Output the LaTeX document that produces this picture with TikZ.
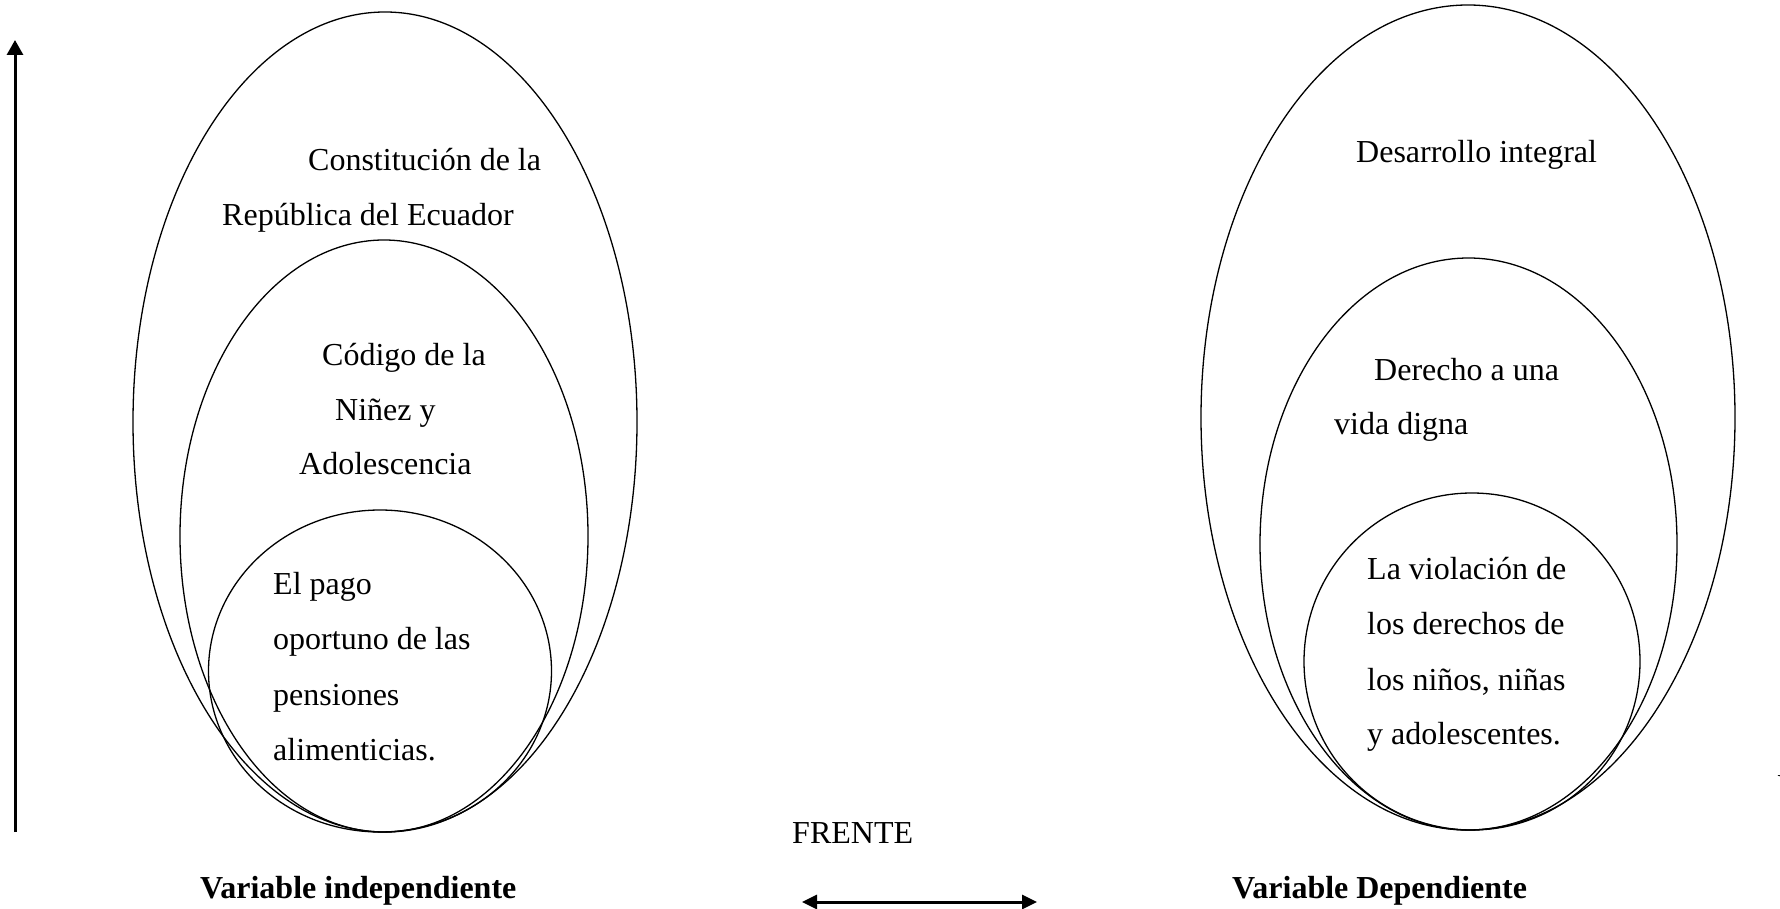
\documentclass[tikz,border=0pt]{standalone}
\usepackage{fontspec}
\setmainfont{Liberation Serif}
\usetikzlibrary{arrows.meta}
\begin{document}
\begin{tikzpicture}[x=1pt,y=-1pt,
  ring/.style={draw=black,line width=1.3pt},
  txt/.style={anchor=base west,inner sep=0pt,font=\fontsize{32}{38}\selectfont},
  btxt/.style={txt,font=\fontsize{32}{38}\selectfont\bfseries},
  arr/.style={line width=3pt,-{Triangle[length=15pt,width=16pt]}},
  darr/.style={line width=3pt,{Triangle[length=15pt,width=14pt]}-{Triangle[length=15pt,width=14pt]}}]
\useasboundingbox (0,0) rectangle (1780,909);

% left group
\draw[ring] (385,422) ellipse [x radius=252pt, y radius=410pt];
\draw[ring] (384,536) ellipse [x radius=204pt, y radius=296pt];
\draw[ring] (380,671) ellipse [x radius=171.5pt, y radius=161pt];

% right group
\draw[ring] (1468,417.5) ellipse [x radius=267pt, y radius=412.5pt];
\draw[ring] (1468.5,544) ellipse [x radius=208.5pt, y radius=286pt];
\draw[ring] (1472,661.5) ellipse [x radius=168pt, y radius=168.5pt];

% left texts
\node[txt] (l1) at (308,171) {Constitución de la};
\node[txt] (l2) at (222,226) {República del Ecuador};
\node[txt] (l3) at (322,365) {Código de la};
\node[txt] (l4) at (335,420) {Niñez y};
\node[txt] (l5) at (299,474) {Adolescencia};
\node[txt] (l6) at (273,594) {El pago};
\node[txt] (l7) at (273,649) {oportuno de las};
\node[txt] (l8) at (273,705) {pensiones};
\node[txt] (l9) at (273,760) {alimenticias.};
\node[btxt] (vi) at (200,898) {Variable independiente};

% right texts
\node[txt] (r1) at (1356,163) {Desarrollo integral};
\node[txt] (r2) at (1374,380) {Derecho a una};
\node[txt] (r3) at (1334,434) {vida digna};
\node[txt] (r4) at (1367,579) {La violación de};
\node[txt] (r5) at (1367,634) {los derechos de};
\node[txt] (r6) at (1367,690) {los niños, niñas};
\node[txt] (r7) at (1367,744) {y adolescentes.};
\node[btxt] (vd) at (1232,898) {Variable Dependiente};

% centre
\node[txt] (fr) at (792,843) {FRENTE};

% arrows
\coordinate (vb) at (15,832);
\coordinate (vt) at (15,40);
\draw[arr] (vb) -- (vt);
\coordinate (hl) at (802,902);
\coordinate (hr) at (1037,902);
\draw[darr] (hl) -- (hr);

% clipped fragment at right edge
\begin{scope}
\clip (0,0) rectangle (1780,909);
\node[txt] (cut) at (1777.5,796) {V};
\end{scope}
\end{tikzpicture}
\end{document}
